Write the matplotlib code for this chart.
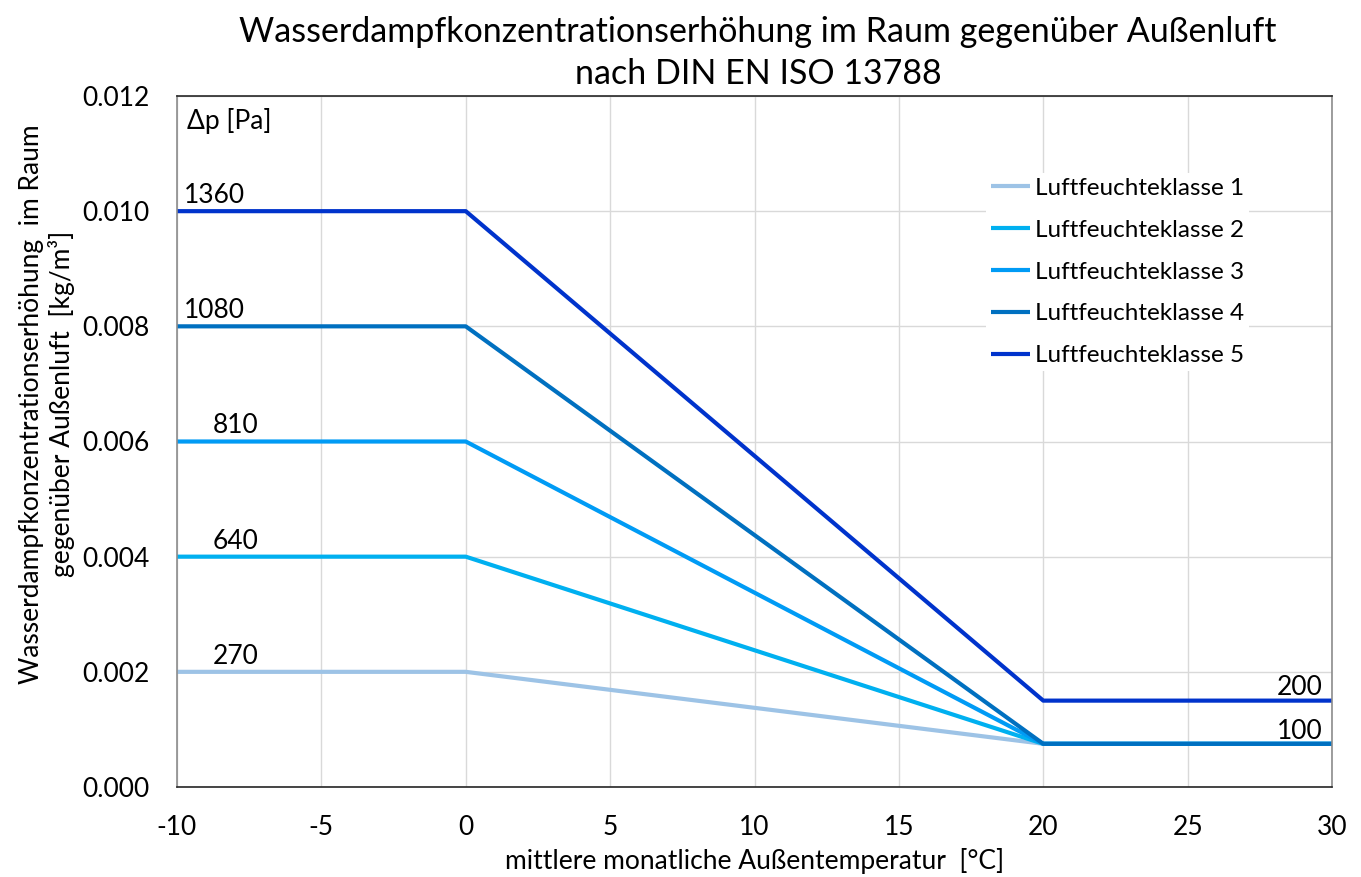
import matplotlib
matplotlib.use('Agg')
import matplotlib.pyplot as plt

# Data
temps = [-10, 0, 20, 30]
klasse_1 = [0.0020, 0.0020, 0.00075, 0.00075]
klasse_2 = [0.0040, 0.0040, 0.00075, 0.00075]
klasse_3 = [0.0060, 0.0060, 0.00075, 0.00075]
klasse_4 = [0.0080, 0.0080, 0.00075, 0.00075]
klasse_5 = [0.0100, 0.0100, 0.0015, 0.0015]
series_labels = ['Luftfeuchteklasse 1', 'Luftfeuchteklasse 2', 'Luftfeuchteklasse 3',
                 'Luftfeuchteklasse 4', 'Luftfeuchteklasse 5']
colors = ['#9DC3E6', '#00B0F0', '#009BF5', '#0070C0', '#0033CC']

dp_left = ['270', '640', '810', '1080', '1360']
dp_right = ['100', '200']
dp_right_y = [0.00075, 0.0015]

plt.rcParams['font.family'] = ['Lato', 'DejaVu Sans']
plt.rcParams['axes.unicode_minus'] = False

fig = plt.figure(figsize=(13.61, 8.77), dpi=100)
ax = fig.add_axes([177 / 1361, 1 - 787 / 877, 1155 / 1361, 691 / 877])

all_series = [klasse_1, klasse_2, klasse_3, klasse_4, klasse_5]
for vals, lab, col in zip(all_series, series_labels, colors):
    ax.plot(temps, vals, color=col, lw=3, label=lab, solid_capstyle='butt')

# Δp labels
for vals, txt in zip(all_series, dp_left):
    x0 = -9.76 if len(txt) == 4 else -8.75
    ax.text(x0, vals[0] + 0.00014, txt, fontsize=19, ha='left', va='baseline')
for y, txt in zip(dp_right_y, dp_right):
    ax.text(29.69, y + 0.00009, txt, fontsize=19, ha='right', va='baseline')
ax.text(-9.65, 0.01179, 'Δp [Pa]', fontsize=19, ha='left', va='top')

ax.set_xlim(-10, 30)
ax.set_ylim(0, 0.012)
ax.set_xticks(range(-10, 31, 5))
ax.set_yticks([0, 0.002, 0.004, 0.006, 0.008, 0.010, 0.012])
ax.set_yticklabels([f'{v:.3f}' for v in ax.get_yticks()])
ax.tick_params(axis='both', length=0, labelsize=19, pad=20)
ax.grid(True, color='#D9D9D9', lw=1)
ax.set_axisbelow(True)
for side in ['left', 'right']:
    ax.spines[side].set_color('#8C8C8C')
for side in ['top', 'bottom']:
    ax.spines[side].set_color('#262626')
for s in ax.spines.values():
    s.set_linewidth(1.2)

ax.set_xlabel('mittlere monatliche Außentemperatur  [°C]', fontsize=19, labelpad=6)
ax.set_ylabel('Wasserdampfkonzentrationserhöhung  im Raum\ngegenüber Außenluft  [kg/m³]',
              fontsize=19, linespacing=1.2)
ax.yaxis.set_label_coords(-0.088, 0.554)
fig.suptitle('Wasserdampfkonzentrationserhöhung im Raum gegenüber Außenluft\nnach DIN EN ISO 13788',
             fontsize=24.5, x=0.557, y=0.982, va='top', linespacing=1.38)

leg = ax.legend(loc='center left', bbox_to_anchor=(986 / 1361, 1 - 272 / 877),
                bbox_transform=fig.transFigure, fontsize=17.5, frameon=True,
                facecolor='white', edgecolor='none', framealpha=1, handlelength=1.6,
                handletextpad=0.2, labelspacing=0.86, borderpad=0.2, borderaxespad=0)

fig.savefig('out.png', dpi=100)
